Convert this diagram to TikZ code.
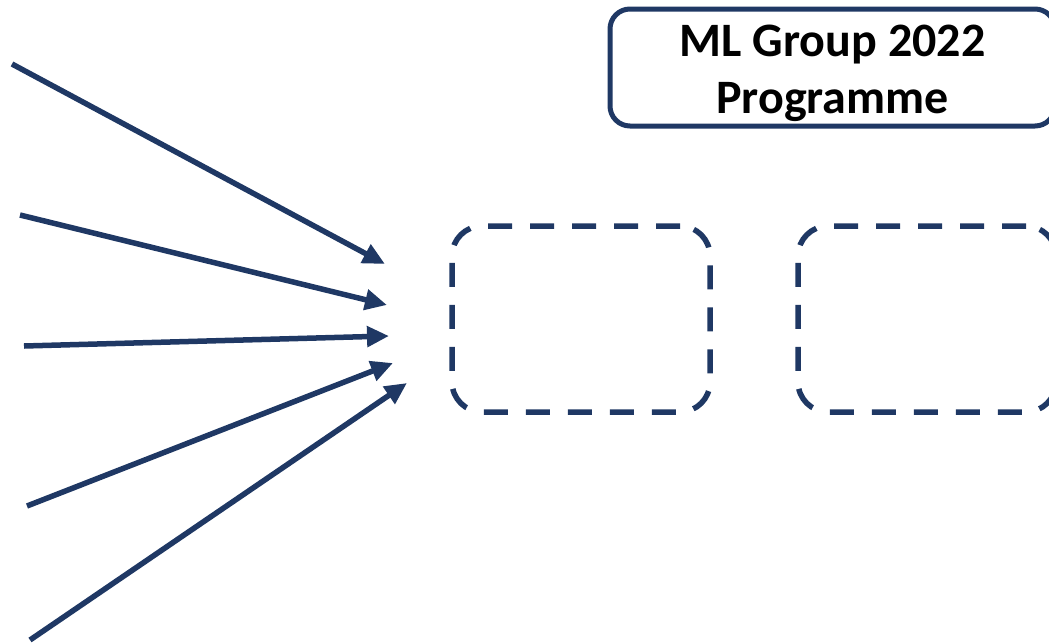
\documentclass[tikz,border=0pt]{standalone}
\usepackage{fontspec}
\setmainfont{Carlito}
\usetikzlibrary{arrows.meta}
\usetikzlibrary{shapes}
\definecolor{navy}{HTML}{1F3864}
\tikzstyle{heading} = [rectangle, rounded corners=20pt, minimum width=445pt, minimum height=117pt, text centered, draw=navy, line width=5pt, align=center, font=\bfseries\fontsize{48}{57}\selectfont]
\tikzstyle{slot} = [rectangle, rounded corners=30pt, minimum width=258pt, minimum height=186pt, draw=navy, line width=5.5pt, dash pattern=on 24pt off 18pt]
\tikzstyle{arrow} = [line width=5.5pt, draw=navy, -{Triangle[length=22pt,width=20pt]}]

\begin{document}
\begin{tikzpicture}[x=1pt, y=-1pt, node distance=346pt]

\useasboundingbox (0,0) rectangle (1049,643);
\clip (0,0) rectangle (1049,643);

\node [heading] (title) at (832.5,67.5) {\rule{0pt}{44pt}ML Group 2022\\Programme};

\node [slot] (box1) at (581,319) {};
\node [slot, right of = box1] (box2) {};

\coordinate (in1) at (12,64);
\coordinate (in2) at (20,215);
\coordinate (in3) at (24,346);
\coordinate (in4) at (27,506);
\coordinate (in5) at (30,640);

\coordinate (tip1) at (385,264);
\coordinate (tip2) at (387,305);
\coordinate (tip3) at (389,336);
\coordinate (tip4) at (393,363);
\coordinate (tip5) at (407,383);

\draw [arrow] (in1) -- (tip1);
\draw [arrow] (in2) -- (tip2);
\draw [arrow] (in3) -- (tip3);
\draw [arrow] (in4) -- (tip4);
\draw [arrow] (in5) -- (tip5);

\end{tikzpicture}
\end{document}
